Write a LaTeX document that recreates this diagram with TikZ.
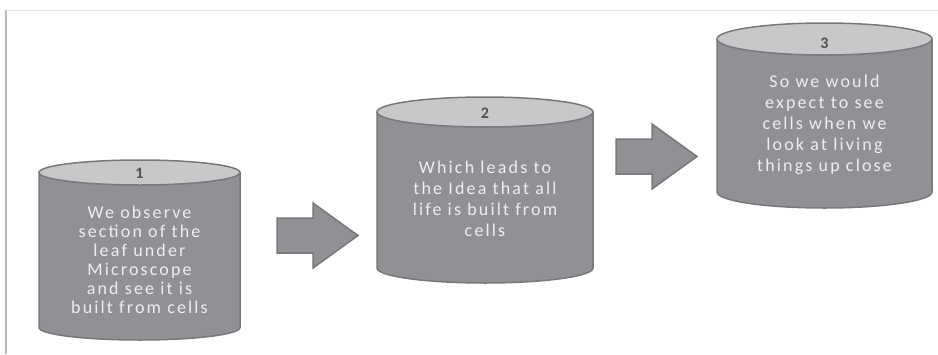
\documentclass[tikz,border=0pt]{standalone}
\usepackage{fontspec}
\setmainfont{Carlito}
\definecolor{bodygray}{HTML}{8F9194}
\definecolor{topgray}{HTML}{C6C8CA}
\definecolor{edgegray}{HTML}{76787A}
\definecolor{txtgray}{HTML}{EEEEEE}
\definecolor{numgray}{HTML}{505050}
\definecolor{framegray}{HTML}{B8B8B8}
\definecolor{framelight}{HTML}{E4E4E4}
\newcommand\drawcyl[5]{%
  \draw[cylbody] ({#1-#4},#2) -- ({#1-#4},#3)
    arc[start angle=180,end angle=0,x radius=#4,y radius=#5]
    -- ({#1+#4},#2) -- cycle;
  \draw[cyltop] (#1,#2) ellipse[x radius=#4,y radius=#5];}
\newcommand\blockarrow[5]{% x0, x1, cy, headstart, unused
  \draw[barrow] (#1,{#3-17.5}) -- (#4,{#3-17.5}) -- (#4,{#3-32.5}) -- (#2,#3)
    -- (#4,{#3+32.5}) -- (#4,{#3+17.5}) -- (#1,{#3+17.5}) -- cycle;}
\begin{document}
\begin{tikzpicture}[x=1pt,y=-1pt,
  cylbody/.style={fill=bodygray,draw=edgegray,line width=1.5pt,line join=round},
  cyltop/.style={fill=topgray,draw=edgegray,line width=1.5pt},
  barrow/.style={fill=bodygray,draw=edgegray,line width=1.5pt,line join=miter},
  cyltext/.style={align=center,text=txtgray,inner sep=0pt,
    font=\fontsize{18}{20}\selectfont\addfontfeature{LetterSpace=12}},
  numtext/.style={text=numgray,inner sep=0pt,font=\fontsize{16}{18}\selectfont\bfseries}]
\useasboundingbox (0,0) rectangle (938,354);
\fill[white] (0,0) rectangle (938,354);
\draw[framelight,line width=1pt] (6,10) -- (938,10);
\draw[framegray,line width=1.5pt] (6,10) -- (6,354);
% cylinders
\drawcyl{139.5}{172.5}{327.5}{100.5}{12.5}
\drawcyl{485}{112}{268}{108}{15}
\drawcyl{824.5}{39}{192}{107.5}{16}
% arrows
\blockarrow{277}{358}{235.5}{313}{}
\blockarrow{616}{697}{156.5}{652}{}
% labels
\node[numtext] (n1) at (139.5,173) {1};
\node[numtext] (n2) at (485,113) {2};
\node[numtext] (n3) at (824.5,43) {3};
\node[cyltext,font=\fontsize{18}{19}\selectfont\addfontfeature{LetterSpace=12}] (t1) at (139.5,260) {We observe\\section of the\\leaf under\\Microscope\\and see it is\\built from cells};
\node[cyltext,font=\fontsize{18}{21}\selectfont\addfontfeature{LetterSpace=12}] (t2) at (485,199) {Which leads to\\the Idea that all\\life is built from\\cells};
\node[cyltext,font=\fontsize{18}{21}\selectfont\addfontfeature{LetterSpace=12}] (t3) at (824.5,125) {So we would\\expect to see\\cells when we\\look at living\\things up close};
\end{tikzpicture}
\end{document}
